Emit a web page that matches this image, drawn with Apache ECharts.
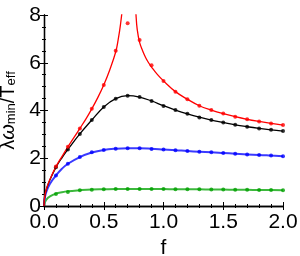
<!DOCTYPE html>
<html>
<head>
<meta charset="utf-8">
<script src="https://cdn.jsdelivr.net/npm/echarts@6/dist/echarts.min.js"></script>
<style>html,body{margin:0;padding:0;background:#fff}#c{width:300px;height:256px}</style>
</head>
<body>
<div id="c"></div>
<script>
// simulation dots
const fDots = [0.1,0.2,0.3,0.4,0.5,0.6,0.7,0.8,0.9,1.0,1.1,1.2,1.3,1.4,1.5,1.6,1.7,1.8,1.9,2.0];
const redDots   = [1.65,2.48,3.25,4.07,5.07,6.50,7.65,6.95,5.90,5.24,4.79,4.47,4.20,4.02,3.87,3.74,3.63,3.54,3.46,3.39];
const blackDots = [1.62,2.37,3.02,3.60,4.15,4.49,4.62,4.57,4.40,4.19,4.02,3.86,3.71,3.60,3.50,3.40,3.32,3.25,3.19,3.14];
const blueDots  = [1.28,1.77,2.05,2.25,2.35,2.40,2.42,2.42,2.39,2.37,2.33,2.30,2.27,2.25,2.22,2.19,2.16,2.14,2.11,2.08];
const greenDots = [0.50,0.59,0.66,0.68,0.70,0.71,0.71,0.71,0.71,0.71,0.70,0.70,0.70,0.69,0.69,0.68,0.68,0.67,0.67,0.66];

// theory curves
const fLine = [0,0.005,0.02,0.05,0.1,0.15,0.2,0.3,0.4,0.5,0.6,0.7,0.8,0.9,1.0,1.1,1.2,1.3,1.4,1.5,1.6,1.7,1.8,1.9,2.0];
const blackLine = [0,0.35,0.70,1.10,1.62,2.02,2.37,3.02,3.60,4.15,4.50,4.62,4.56,4.40,4.20,4.02,3.86,3.72,3.60,3.50,3.40,3.32,3.25,3.19,3.14];
const blueLine  = [0,0.30,0.60,0.93,1.28,1.56,1.77,2.05,2.24,2.35,2.40,2.42,2.42,2.40,2.37,2.34,2.30,2.27,2.25,2.22,2.19,2.16,2.14,2.11,2.08];
const greenLine = [0,0.12,0.27,0.40,0.52,0.58,0.62,0.66,0.69,0.70,0.71,0.71,0.71,0.71,0.71,0.70,0.70,0.70,0.69,0.69,0.68,0.68,0.67,0.67,0.66];
const redLineF = [0,0.005,0.02,0.05,0.1,0.15,0.2,0.25,0.3,0.35,0.4,0.45,0.5,0.55,0.6,0.62,0.64,0.66,0.68,0.70,0.74,0.755,0.77,0.78,0.8,0.825,0.85,0.875,0.9,0.95,1.0,1.1,1.2,1.3,1.4,1.5,1.6,1.7,1.8,1.9,2.0];
const redLineV = [0,0.36,0.72,1.12,1.65,2.07,2.48,2.86,3.25,3.64,4.07,4.54,5.07,5.70,6.45,6.95,7.60,8.5,10.0,13.0,12.0,9.5,8.0,7.4,6.85,6.5,6.22,6.0,5.82,5.50,5.24,4.79,4.47,4.20,4.02,3.87,3.74,3.63,3.54,3.46,3.39];

const xTicks = [0,0.5,1.0,1.5,2.0];
const yTicks = [0,2,4,6,8];

const pairs = (xs, ys) => xs.map((x,i)=>[x, ys[i]]);
const FONT = 'Liberation Sans';

function axisCommon(showLabels){
  return {
    axisLine:{show:true,lineStyle:{color:'#000',width:1.3}},
    axisTick:{show:true,inside:true,length:4,lineStyle:{color:'#000',width:1}},
    minorTick:{show:true,length:2,lineStyle:{color:'#000',width:1}},
    splitLine:{show:false},
    minorSplitLine:{show:false},
    axisLabel:{show:showLabels,color:'#000',fontFamily:FONT,fontSize:21}
  };
}

const xBottom = Object.assign(axisCommon(true), {
  type:'value', min:0, max:2, interval:0.5, position:'bottom',
  name:'f', nameLocation:'middle', nameGap:25,
  nameTextStyle:{color:'#000',fontFamily:FONT,fontSize:21},
});
xBottom.minorTick.splitNumber = 5;
xBottom.axisLabel.margin = 6;
xBottom.axisLabel.formatter = v => xTicks.includes(v) ? v.toFixed(1) : '';
const xTop = Object.assign(axisCommon(false), {type:'value', min:0, max:2, interval:0.5, position:'top'});
xTop.minorTick.splitNumber = 5;

const yLeft = Object.assign(axisCommon(true), {
  type:'value', min:0, max:8, interval:2, position:'left',
  name:'{a|λ}{w|ω}{s|min}{a|/T}{s|eff}', nameLocation:'middle', nameGap:21, nameRotate:90,
  nameTextStyle:{color:'#000',fontFamily:FONT,fontSize:20,
    rich:{
      a:{fontFamily:FONT,fontSize:20,color:'#000',lineHeight:22,verticalAlign:'bottom'},
      w:{fontFamily:FONT,fontSize:20,fontStyle:'italic',color:'#000',lineHeight:22,verticalAlign:'bottom'},
      s:{fontFamily:FONT,fontSize:13,color:'#000',lineHeight:8,verticalAlign:'bottom'}
    }}
});
yLeft.minorTick.splitNumber = 4;
yLeft.axisLabel.margin = 3;
yLeft.axisLabel.formatter = v => yTicks.includes(v) ? String(v) : '';
const yRight = Object.assign(axisCommon(false), {type:'value', min:0, max:8, interval:2, position:'right'});
yRight.minorTick.splitNumber = 4;

function lineS(data,color,w){
  return {type:'line',data,xAxisIndex:0,yAxisIndex:0,showSymbol:false,symbol:'none',smooth:0.4,
    lineStyle:{color,width:w},itemStyle:{color},clip:true,silent:true,animation:false,z:2};
}
function dotS(data,color){
  return {type:'scatter',data,xAxisIndex:0,yAxisIndex:0,symbol:'circle',symbolSize:4,
    itemStyle:{color},clip:true,silent:true,animation:false,z:3};
}

const chart = echarts.init(document.getElementById('c'),null,{renderer:'canvas'});
chart.setOption({
  animation:false,
  backgroundColor:'#fff',
  grid:{left:44,right:17,top:15,bottom:50,containLabel:false,outerBoundsMode:'none'},
  xAxis:[xBottom,xTop],
  yAxis:[yLeft,yRight],
  series:[
    lineS(pairs(fLine,greenLine),'#3cb83c',2),
    lineS(pairs(fLine,blueLine),'#3a3aff',2),
    lineS(pairs(fLine,blackLine),'#000',1.3),
    lineS(pairs(redLineF,redLineV),'#ff0000',1.3),
    dotS(pairs(fDots,greenDots),'#00a000'),
    dotS(pairs(fDots,blueDots),'#0000ff'),
    dotS(pairs(fDots,blackDots),'#000'),
    dotS(pairs(fDots,redDots),'#ff0000')
  ]
});
</script>
</body>
</html>
